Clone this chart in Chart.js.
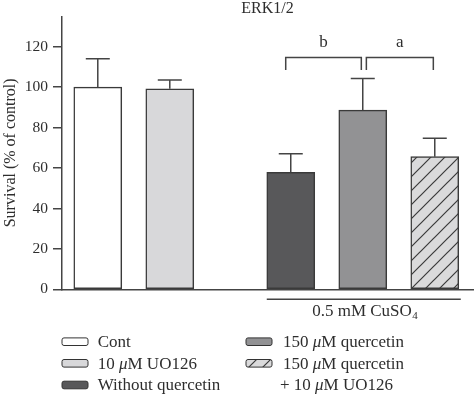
<!DOCTYPE html>
<html>
<head>
<meta charset="utf-8">
<script src="https://cdn.jsdelivr.net/npm/chart.js@4/dist/chart.umd.min.js"></script>
<style>
  html, body { margin: 0; padding: 0; background: #fff; }
  #wrap { width: 474px; height: 398px; }
</style>
</head>
<body>
<div id="wrap"><canvas id="chart"></canvas></div>
<script>
// data
var labels = ['Cont', '10 μM UO126', 'Without quercetin', '150 μM quercetin', ['150 μM quercetin', '+ 10 μM UO126']];
var survival = [100, 99.2, 57.9, 88.6, 65.6];
var errors = [14, 4.3, 9.2, 15.7, 9.1];
var yTicks = [0, 20, 40, 60, 80, 100, 120];
var brackets = [{ from: 2, to: 3, text: 'b' }, { from: 3, to: 4, text: 'a' }];
var groupLabel = ['0.5 mM CuSO', '4'];

var serif = "'Liberation Serif', 'DejaVu Serif', serif";
var ink = '#2e2e2e';
var groupGap = 0.68;   // extra space before the CuSO4 group
function slotX(i) { return i + (i >= 2 ? groupGap : 0); }

function makeHatch() {
  var c = document.createElement('canvas');
  c.width = 14; c.height = 14;
  var g = c.getContext('2d');
  g.fillStyle = '#dadadb';
  g.fillRect(0, 0, 14, 14);
  g.strokeStyle = '#3a3a3a';
  g.lineWidth = 1.2;
  g.beginPath();
  g.moveTo(-1, 15); g.lineTo(15, -1);
  g.moveTo(-1, 1); g.lineTo(1, -1);
  g.moveTo(13, 15); g.lineTo(15, 13);
  g.stroke();
  return g.createPattern(c, 'repeat');
}
var fills = ['#ffffff', '#d8d8da', '#58585a', '#929294', makeHatch()];

// text with an italic mu
function richText(ctx, text, x, y, size) {
  var parts = text.split('μ');
  var up = size + 'px ' + serif, it = 'italic ' + size + 'px ' + serif;
  var cx = x;
  ctx.textAlign = 'left';
  parts.forEach(function (p, k) {
    ctx.font = up; ctx.fillText(p, cx, y); cx += ctx.measureText(p).width;
    if (k < parts.length - 1) { ctx.font = it; ctx.fillText('μ', cx, y); cx += ctx.measureText('μ').width; }
  });
}

var extras = {
  id: 'extras',
  afterDatasetsDraw: function (chart) {
    var ctx = chart.ctx, xs = chart.scales.x, ys = chart.scales.y;
    ctx.save();
    ctx.strokeStyle = '#444';
    ctx.lineWidth = 1.5;
    // error bars (upper only)
    survival.forEach(function (v, i) {
      var px = xs.getPixelForValue(slotX(i));
      var top = ys.getPixelForValue(v + errors[i]);
      ctx.beginPath();
      ctx.moveTo(px, ys.getPixelForValue(v));
      ctx.lineTo(px, top);
      ctx.moveTo(px - 12, top);
      ctx.lineTo(px + 12, top);
      ctx.stroke();
    });
    // significance brackets
    ctx.fillStyle = ink;
    ctx.textBaseline = 'middle';
    brackets.forEach(function (b, k) {
      var x1 = xs.getPixelForValue(slotX(b.from) + (k === 0 ? -0.07 : 0.05));
      var x2 = xs.getPixelForValue(slotX(b.to) - 0.02);
      var yTop = ys.getPixelForValue(114.7), yLeg = ys.getPixelForValue(108.5);
      ctx.beginPath();
      ctx.moveTo(x1, yLeg); ctx.lineTo(x1, yTop); ctx.lineTo(x2, yTop); ctx.lineTo(x2, yLeg);
      ctx.stroke();
      ctx.font = '17px ' + serif;
      ctx.textAlign = 'center';
      ctx.fillText(b.text, (x1 + x2) / 2, ys.getPixelForValue(122));
    });
    // group line under the CuSO4 bars
    var gy = ys.getPixelForValue(0) + 10;
    var gx1 = xs.getPixelForValue(slotX(2)) - 24, gx2 = xs.getPixelForValue(slotX(4)) + 26;
    ctx.beginPath(); ctx.moveTo(gx1, gy); ctx.lineTo(gx2, gy); ctx.stroke();
    ctx.font = '17px ' + serif;
    var w1 = ctx.measureText(groupLabel[0]).width;
    ctx.font = '11px ' + serif;
    var w2 = ctx.measureText(groupLabel[1]).width;
    var sx = (gx1 + gx2) / 2 - (w1 + w2) / 2 + 1;
    ctx.textAlign = 'left';
    ctx.font = '17px ' + serif;
    ctx.fillText(groupLabel[0], sx, gy + 12);
    ctx.font = '11px ' + serif;
    ctx.fillText(groupLabel[1], sx + w1 + 0.5, gy + 17);
    // legend, two columns
    var cols = [{ sw: 62, tx: 97.7, items: [0, 1, 2] }, { sw: 246, tx: 283, items: [3, 4] }];
    var rowY = [341.7, 363.3, 385];
    ctx.lineWidth = 1;
    ctx.strokeStyle = '#333';
    cols.forEach(function (c) {
      var r = 0;
      c.items.forEach(function (i) {
        var y = rowY[r];
        ctx.beginPath();
        ctx.roundRect(c.sw, y - 3.8, 26, 7.6, 2);
        ctx.fillStyle = fills[i];
        ctx.fill();
        ctx.stroke();
        ctx.fillStyle = ink;
        var lines = Array.isArray(labels[i]) ? labels[i] : [labels[i]];
        lines.forEach(function (t, j) {
          richText(ctx, t, c.tx + (j > 0 ? -3 : 0), rowY[r] + 1, 17);
          r++;
        });
      });
    });
    ctx.restore();
  }
};

new Chart('chart', {
  type: 'bar',
  data: {
    datasets: [{
      data: survival.map(function (v, i) { return { x: slotX(i), y: v }; }),
      backgroundColor: fills,
      borderColor: '#3a3a3a',
      borderWidth: 1.5,
      borderSkipped: false,
      barThickness: 48
    }]
  },
  options: {
    responsive: true,
    maintainAspectRatio: false,
    animation: false,
    layout: { padding: { top: 0, right: 1, bottom: 108.7, left: 0 } },
    plugins: {
      legend: { display: false },
      tooltip: { enabled: false },
      title: {
        display: true,
        fullSize: false,
        text: 'ERK1/2',
        color: ink,
        font: { family: serif, size: 16, weight: 'normal', lineHeight: 0.9 },
        padding: { top: 2, bottom: 0 }
      }
    },
    scales: {
      x: {
        type: 'linear',
        offset: false,
        min: -0.497,
        max: 5.211,
        ticks: { display: false },
        grid: { display: false, drawTicks: false, offset: false },
        border: { display: true, color: '#444', width: 1.5 },
        afterFit: function (s) { s.height = 0; }
      },
      y: {
        min: 0,
        max: 135,
        afterBuildTicks: function (s) { s.ticks = yTicks.map(function (v) { return { value: v }; }); },
        ticks: { color: ink, padding: 5, font: { family: serif, size: 15.5 } },
        grid: { drawOnChartArea: false, drawTicks: true, tickLength: 9, color: '#444', lineWidth: 1.5 },
        border: { display: true, color: '#444', width: 1.5 },
        title: {
          display: true,
          text: 'Survival (% of control)',
          color: ink,
          font: { family: serif, size: 16 },
          padding: { top: 1, bottom: 0 }
        },
        afterFit: function (s) { s.width = 62; }
      }
    }
  },
  plugins: [extras]
});
</script>
</body>
</html>
